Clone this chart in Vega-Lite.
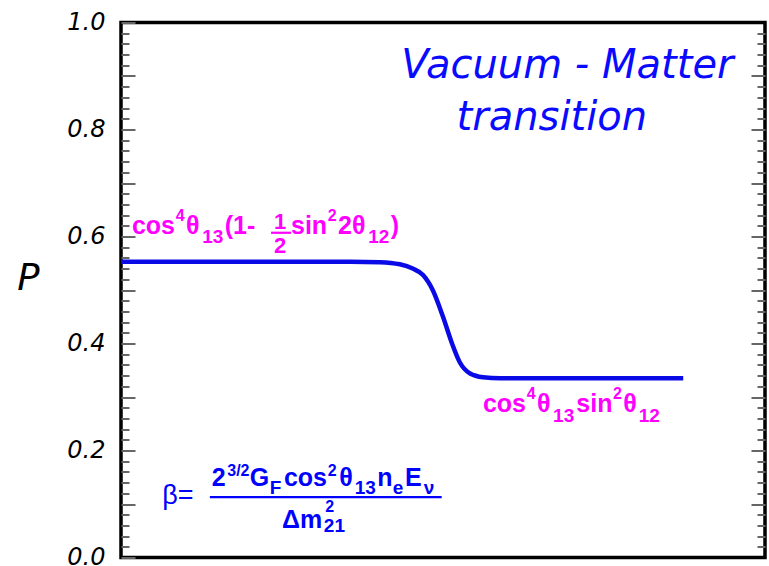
{
  "$schema": "https://vega.github.io/schema/vega-lite/v6.json",
  "width": 644,
  "height": 535,
  "autosize": "none",
  "padding": {"left": 121, "top": 22.5, "right": 4, "bottom": 8.5},
  "background": "white",
  "config": {
    "view": {"stroke": "black", "strokeWidth": 3.5},
    "axis": {"domain": false, "grid": false}
  },
  "datasets": {
    "curve": [
      {"x": 0, "P": 0.553}, {"x": 0.2, "P": 0.553}, {"x": 0.356, "P": 0.553},
      {"x": 0.402, "P": 0.552}, {"x": 0.433, "P": 0.548}, {"x": 0.453, "P": 0.54},
      {"x": 0.469, "P": 0.528}, {"x": 0.484, "P": 0.5}, {"x": 0.5, "P": 0.45},
      {"x": 0.514, "P": 0.4}, {"x": 0.526, "P": 0.365}, {"x": 0.542, "P": 0.344},
      {"x": 0.562, "P": 0.337}, {"x": 0.589, "P": 0.335}, {"x": 0.744, "P": 0.335},
      {"x": 0.873, "P": 0.335}
    ],
    "main": [
      {"g": "limit", "t": "cos", "x": 0.017, "y": 0.605},
      {"g": "limit", "t": "θ", "x": 0.101, "y": 0.605},
      {"g": "limit", "t": "(1-", "x": 0.161, "y": 0.605},
      {"g": "limit", "t": "sin", "x": 0.264, "y": 0.605},
      {"g": "limit", "t": "2θ", "x": 0.337, "y": 0.605},
      {"g": "limit", "t": ")", "x": 0.419, "y": 0.605},
      {"g": "limit", "t": "cos", "x": 0.562, "y": 0.272},
      {"g": "limit", "t": "θ", "x": 0.646, "y": 0.272},
      {"g": "limit", "t": "sin", "x": 0.707, "y": 0.272},
      {"g": "limit", "t": "θ", "x": 0.78, "y": 0.272},
      {"g": "beta", "t": "2", "x": 0.141, "y": 0.134},
      {"g": "beta", "t": "G", "x": 0.2, "y": 0.134},
      {"g": "beta", "t": "cos", "x": 0.253, "y": 0.134},
      {"g": "beta", "t": "θ", "x": 0.339, "y": 0.134},
      {"g": "beta", "t": "n", "x": 0.398, "y": 0.134},
      {"g": "beta", "t": "E", "x": 0.441, "y": 0.134},
      {"g": "beta", "t": "Δm", "x": 0.25, "y": 0.055}
    ],
    "sup": [
      {"g": "limit", "t": "4", "x": 0.085, "y": 0.629},
      {"g": "limit", "t": "2", "x": 0.321, "y": 0.629},
      {"g": "limit", "t": "4", "x": 0.63, "y": 0.296},
      {"g": "limit", "t": "2", "x": 0.764, "y": 0.296},
      {"g": "beta", "t": "3/2", "x": 0.165, "y": 0.152},
      {"g": "beta", "t": "2", "x": 0.321, "y": 0.152},
      {"g": "beta", "t": "2", "x": 0.317, "y": 0.085}
    ],
    "sub": [
      {"g": "limit", "t": "13", "x": 0.126, "y": 0.588},
      {"g": "limit", "t": "12", "x": 0.384, "y": 0.588},
      {"g": "limit", "t": "13", "x": 0.671, "y": 0.253},
      {"g": "limit", "t": "12", "x": 0.804, "y": 0.253},
      {"g": "beta", "t": "F", "x": 0.231, "y": 0.119},
      {"g": "beta", "t": "13", "x": 0.363, "y": 0.119},
      {"g": "beta", "t": "e", "x": 0.422, "y": 0.119},
      {"g": "beta", "t": "ν", "x": 0.47, "y": 0.119},
      {"g": "beta", "t": "21", "x": 0.315, "y": 0.047}
    ],
    "frac": [
      {"g": "limit", "t": "1", "x": 0.247, "y": 0.614},
      {"g": "limit", "t": "2", "x": 0.247, "y": 0.569}
    ],
    "bars": [
      {"g": "limit", "x": 0.233, "x2": 0.264, "y": 0.607},
      {"g": "beta", "x": 0.138, "x2": 0.498, "y": 0.113}
    ],
    "betalabel": [
      {"g": "beta", "t": "β=", "x": 0.064, "y": 0.1}
    ],
    "title": [
      {"t": "Vacuum - Matter", "x": 0.693, "y": 0.896},
      {"t": "transition", "x": 0.669, "y": 0.799}
    ]
  },
  "resolve": {"axis": {"y": "independent"}},
  "layer": [
    {
      "data": {"name": "curve"},
      "mark": {"type": "line", "color": "#0a0ae6", "strokeWidth": 4.5, "interpolate": "monotone"},
      "encoding": {
        "x": {"field": "x", "type": "quantitative", "scale": {"domain": [0, 1]}, "axis": null},
        "y": {
          "field": "P", "type": "quantitative", "scale": {"domain": [0, 1]},
          "axis": {
            "orient": "left",
            "values": [0, 0.1, 0.2, 0.3, 0.4, 0.5, 0.6, 0.7, 0.8, 0.9, 1.0],
            "tickSize": -14, "tickWidth": 2, "tickColor": "#666",
            "labelExpr": "round(datum.value*10)%2==0 ? format(datum.value,'.1f') : ''",
            "labelFont": "DejaVu Sans", "labelFontStyle": "italic", "labelFontSize": 24,
            "labelColor": "black", "labelPadding": 30, "labelFlush": false, "labelOverlap": false,
            "title": "P", "titleAngle": 0, "titleFont": "DejaVu Sans", "titleFontStyle": "italic",
            "titleFontWeight": "normal", "titleFontSize": 37, "titleColor": "black",
            "titleX": -93, "titleY": 267, "titleAlign": "center", "titleBaseline": "alphabetic"
          }
        }
      }
    },
    {
      "data": {"name": "main"},
      "mark": {"type": "text", "font": "Liberation Sans", "fontWeight": "bold", "fontSize": 25, "align": "left", "baseline": "alphabetic"},
      "encoding": {
        "x": {"field": "x", "type": "quantitative", "scale": {"domain": [0, 1]}, "axis": null},
        "y": {
          "field": "y", "type": "quantitative", "scale": {"domain": [0, 1]},
          "axis": {
            "orient": "left", "title": null, "labels": false,
            "values": [0.02, 0.04, 0.06, 0.08, 0.12, 0.14, 0.16, 0.18, 0.22, 0.24, 0.26, 0.28, 0.32, 0.34, 0.36, 0.38, 0.42, 0.44, 0.46, 0.48, 0.52, 0.54, 0.56, 0.58, 0.62, 0.64, 0.66, 0.68, 0.72, 0.74, 0.76, 0.78, 0.82, 0.84, 0.86, 0.88, 0.92, 0.94, 0.96, 0.98],
            "tickSize": -8, "tickWidth": 2, "tickColor": "#666"
          }
        },
        "text": {"field": "t"},
        "color": {"field": "g", "type": "nominal", "scale": {"domain": ["limit", "beta"], "range": ["#ff00ff", "#0000ff"]}, "legend": null}
      }
    },
    {
      "data": {"name": "sup"},
      "mark": {"type": "text", "font": "Liberation Sans", "fontWeight": "bold", "fontSize": 16, "align": "left", "baseline": "alphabetic"},
      "encoding": {
        "x": {"field": "x", "type": "quantitative", "scale": {"domain": [0, 1]}, "axis": null},
        "y": {
          "field": "y", "type": "quantitative", "scale": {"domain": [0, 1]},
          "axis": {
            "orient": "right", "title": null, "labels": false,
            "values": [0.1, 0.2, 0.3, 0.4, 0.5, 0.6, 0.7, 0.8, 0.9],
            "tickSize": -14, "tickWidth": 2, "tickColor": "#666"
          }
        },
        "text": {"field": "t"},
        "color": {"field": "g", "type": "nominal", "scale": {"domain": ["limit", "beta"], "range": ["#ff00ff", "#0000ff"]}, "legend": null}
      }
    },
    {
      "data": {"name": "sub"},
      "mark": {"type": "text", "font": "Liberation Sans", "fontWeight": "bold", "fontSize": 19, "align": "left", "baseline": "alphabetic"},
      "encoding": {
        "x": {"field": "x", "type": "quantitative", "scale": {"domain": [0, 1]}, "axis": null},
        "y": {
          "field": "y", "type": "quantitative", "scale": {"domain": [0, 1]},
          "axis": {
            "orient": "right", "title": null, "labels": false,
            "values": [0.02, 0.04, 0.06, 0.08, 0.12, 0.14, 0.16, 0.18, 0.22, 0.24, 0.26, 0.28, 0.32, 0.34, 0.36, 0.38, 0.42, 0.44, 0.46, 0.48, 0.52, 0.54, 0.56, 0.58, 0.62, 0.64, 0.66, 0.68, 0.72, 0.74, 0.76, 0.78, 0.82, 0.84, 0.86, 0.88, 0.92, 0.94, 0.96, 0.98],
            "tickSize": -8, "tickWidth": 2, "tickColor": "#666"
          }
        },
        "text": {"field": "t"},
        "color": {"field": "g", "type": "nominal", "scale": {"domain": ["limit", "beta"], "range": ["#ff00ff", "#0000ff"]}, "legend": null}
      }
    },
    {
      "data": {"name": "frac"},
      "mark": {"type": "text", "font": "Liberation Sans", "fontWeight": "bold", "fontSize": 22, "align": "center", "baseline": "alphabetic"},
      "encoding": {
        "x": {"field": "x", "type": "quantitative", "scale": {"domain": [0, 1]}, "axis": null},
        "y": {"field": "y", "type": "quantitative", "scale": {"domain": [0, 1]}, "axis": null},
        "text": {"field": "t"},
        "color": {"field": "g", "type": "nominal", "scale": {"domain": ["limit", "beta"], "range": ["#ff00ff", "#0000ff"]}, "legend": null}
      }
    },
    {
      "data": {"name": "bars"},
      "mark": {"type": "rule", "strokeWidth": 2.2},
      "encoding": {
        "x": {"field": "x", "type": "quantitative", "scale": {"domain": [0, 1]}, "axis": null},
        "x2": {"field": "x2"},
        "y": {"field": "y", "type": "quantitative", "scale": {"domain": [0, 1]}, "axis": null},
        "color": {"field": "g", "type": "nominal", "scale": {"domain": ["limit", "beta"], "range": ["#ff00ff", "#0000ff"]}, "legend": null}
      }
    },
    {
      "data": {"name": "betalabel"},
      "mark": {"type": "text", "font": "Liberation Sans", "fontSize": 27, "align": "left", "baseline": "alphabetic"},
      "encoding": {
        "x": {"field": "x", "type": "quantitative", "scale": {"domain": [0, 1]}, "axis": null},
        "y": {"field": "y", "type": "quantitative", "scale": {"domain": [0, 1]}, "axis": null},
        "text": {"field": "t"},
        "color": {"field": "g", "type": "nominal", "scale": {"domain": ["limit", "beta"], "range": ["#ff00ff", "#0000ff"]}, "legend": null}
      }
    },
    {
      "data": {"name": "title"},
      "mark": {"type": "text", "font": "DejaVu Sans", "fontStyle": "italic", "fontSize": 40, "align": "center", "baseline": "alphabetic", "color": "#0a0aff"},
      "encoding": {
        "x": {"field": "x", "type": "quantitative", "scale": {"domain": [0, 1]}, "axis": null},
        "y": {"field": "y", "type": "quantitative", "scale": {"domain": [0, 1]}, "axis": null},
        "text": {"field": "t"}
      }
    }
  ]
}
